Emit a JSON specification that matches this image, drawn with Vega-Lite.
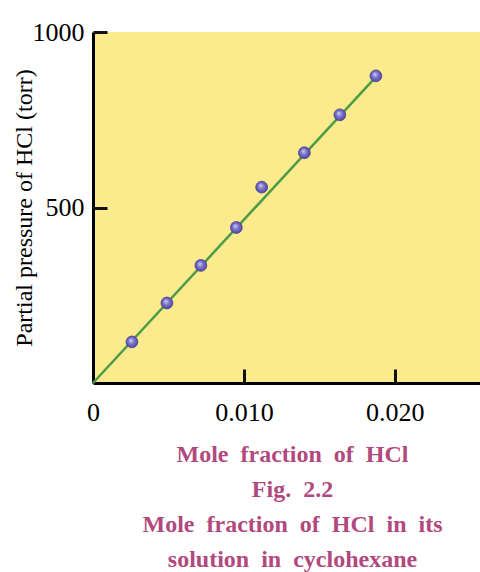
{
  "$schema": "https://vega.github.io/schema/vega-lite/v6.json",
  "width": 387,
  "height": 351,
  "autosize": "none",
  "padding": {"left": 93, "top": 32, "right": 0, "bottom": 189},
  "background": "white",
  "config": {"font": "Liberation Serif", "view": {"fill": "#FBEB8C", "stroke": null}},
  "resolve": {"axis": {"x": "independent", "y": "independent"}},
  "layer": [
    {
      "data": {"values": [{"x": 0, "p": 0}, {"x": 0.01875, "p": 872}]},
      "mark": {"type": "line", "color": "#4E9A47", "strokeWidth": 2.5},
      "encoding": {
        "x": {
          "field": "x", "type": "quantitative",
          "scale": {"domain": [0, 0.02565], "nice": false, "zero": false},
          "axis": {
            "values": [0, 0.01, 0.02],
            "labelExpr": "datum.value == 0 ? '0' : format(datum.value, '.3f')",
            "grid": false, "ticks": false,
            "domainColor": "black", "domainWidth": 3,
            "labelFontSize": 26, "labelColor": "black", "labelPadding": 16,
            "labelFlush": false,
            "title": ["Mole\u2002fraction\u2002of\u2002HCl", "Fig.\u20022.2", "Mole\u2002fraction\u2002of\u2002HCl\u2002in\u2002its", "solution\u2002in\u2002cyclohexane"],
            "titleFontSize": 24, "titleFontWeight": "bold", "titleColor": "#B2497E",
            "titleLineHeight": 35, "titleX": 199, "titleY": 78,
            "titleBaseline": "alphabetic", "titleAlign": "center"
          }
        },
        "y": {
          "field": "p", "type": "quantitative",
          "scale": {"domain": [0, 1000], "nice": false, "zero": false},
          "axis": {
            "values": [500, 1000],
            "format": "d",
            "grid": false, "ticks": false,
            "domainColor": "black", "domainWidth": 3,
            "labelFontSize": 26, "labelColor": "black", "labelPadding": 9,
            "labelFlush": false,
            "title": "Partial pressure of HCl (torr)",
            "titleFontSize": 24, "titleFontWeight": "normal", "titleColor": "black",
            "titleX": -69, "titleY": 175.5, "titleAngle": -90,
            "titleBaseline": "middle", "titleAlign": "center"
          }
        }
      }
    },
    {
      "data": {"values": [
        {"x": 0.00258, "p": 117},
        {"x": 0.0049, "p": 228},
        {"x": 0.00715, "p": 335},
        {"x": 0.0095, "p": 443},
        {"x": 0.01118, "p": 558},
        {"x": 0.01401, "p": 656},
        {"x": 0.01636, "p": 764},
        {"x": 0.01875, "p": 875}
      ]},
      "mark": {
        "type": "circle", "size": 140, "opacity": 1,
        "fill": {"gradient": "radial", "x1": 0.4, "y1": 0.35, "r1": 0, "x2": 0.5, "y2": 0.5, "r2": 0.55,
                 "stops": [{"offset": 0, "color": "#D6D2F6"}, {"offset": 0.45, "color": "#7E76CE"}, {"offset": 1, "color": "#4A4196"}]},
        "stroke": "#4A4196", "strokeWidth": 0.8
      },
      "encoding": {
        "x": {
          "field": "x", "type": "quantitative",
          "axis": {
            "orient": "top", "offset": -351, "zindex": 2,
            "values": [0.01, 0.02],
            "labels": false, "domain": false, "grid": false, "title": null,
            "ticks": true, "tickColor": "#111111", "tickWidth": 3, "tickSize": 14, "tickOpacity": 1
          }
        },
        "y": {
          "field": "p", "type": "quantitative",
          "axis": {
            "orient": "right", "offset": -387, "zindex": 2,
            "values": [500, 1000],
            "labels": false, "domain": false, "grid": false, "title": null,
            "ticks": true, "tickColor": "#111111", "tickWidth": 3, "tickSize": 14, "tickOpacity": 1
          }
        }
      }
    }
  ]
}
